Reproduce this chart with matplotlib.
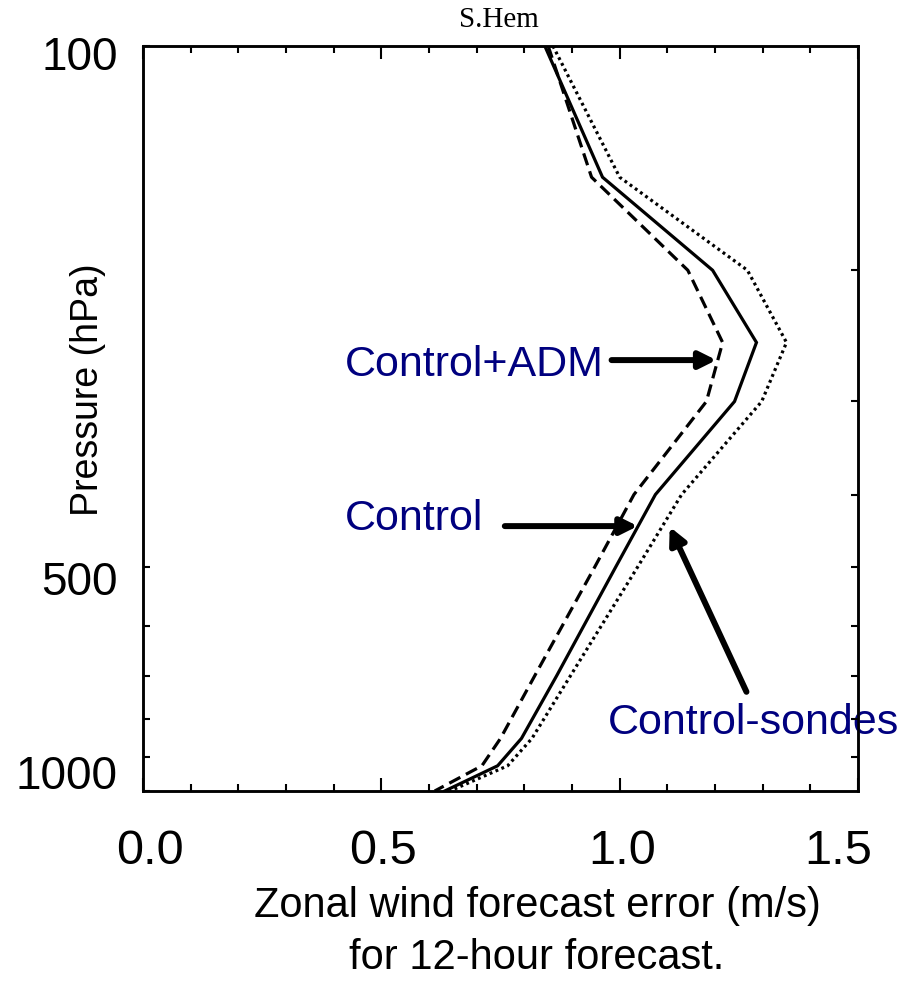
import matplotlib
matplotlib.use("Agg")
import matplotlib.pyplot as plt
import matplotlib.transforms as mtransforms
from matplotlib import font_manager
import numpy as np

# pressure levels (hPa) and 12-h zonal wind forecast error (m/s), southern hemisphere
pressure = [100, 150, 200, 250, 300, 400, 500, 700, 850, 925, 1000]
control = [0.843, 0.964, 1.195, 1.287, 1.241, 1.075, 0.992, 0.868, 0.794, 0.744, 0.633]
control_adm = [0.850, 0.941, 1.143, 1.216, 1.182, 1.030, 0.948, 0.822, 0.750, 0.711, 0.612]
control_sondes = [0.860, 1.000, 1.268, 1.350, 1.298, 1.130, 1.038, 0.897, 0.816, 0.765, 0.644]

ytick_vals = [100, 500, 1000]
ytick_labels = ["100", "500", "1000"]
xtick_vals = [0.0, 0.5, 1.0, 1.5]
xtick_labels = ["0.0", "0.5", "1.0", "1.5"]

NAVY = "#00007f"
SANS = ["Liberation Sans", "DejaVu Sans"]
installed = {f.name for f in font_manager.fontManager.ttflist}
NARROW = ["Liberation Sans Narrow"] + SANS if "Liberation Sans Narrow" in installed else SANS
xtick_size = 40 if NARROW[0] == "Liberation Sans Narrow" else 35

fig = plt.figure(figsize=(9.12, 9.87), dpi=100)
ax = fig.add_axes([143 / 912, 1 - 792 / 987, 715 / 912, 745 / 987])

lw = 2.3
ax.plot(control, pressure, color="black", lw=lw, solid_joinstyle="miter")
ax.plot(control_adm, pressure, color="black", lw=lw, linestyle=(0, (3.9, 2.0)))
ax.plot(control_sondes, pressure, color="black", lw=lw, linestyle=(0, (0.9, 1.1)))

ax.set_yscale("log")
ax.set_ylim(1000, 100)
ax.set_xlim(0, 1.5)

for s in ax.spines.values():
    s.set_linewidth(1.8)

# x ticks every 0.1 on both sides, labelled every 0.5
ax.set_xticks(xtick_vals)
ax.set_xticklabels(xtick_labels, family=NARROW, fontsize=xtick_size)
ax.set_xticks(np.arange(0, 1.51, 0.1), minor=True)
ax.tick_params(axis="x", which="both", direction="in", top=True, bottom=True, width=1.5)
ax.tick_params(axis="x", which="major", length=9.5, pad=27)
ax.tick_params(axis="x", which="minor", length=5)

# y ticks: labelled levels on the left, minor levels on the right
ax.set_yticks(ytick_vals)
ax.set_yticklabels(ytick_labels, family=SANS, fontsize=33)
ax.set_yticks([500, 600, 700, 800, 900], minor=True)
ax.yaxis.set_minor_formatter(plt.NullFormatter())
ax.tick_params(axis="y", which="both", direction="in", length=5, width=1.5, pad=18)
ax2 = ax.twinx()
ax2.set_yscale("log")
ax2.set_ylim(1000, 100)
ax2.set_yticks([200, 300, 400, 500, 600, 700, 800, 900])
ax2.set_yticks([], minor=True)
ax2.set_yticklabels([])
ax2.tick_params(axis="y", direction="in", length=5, width=1.5)
for s in ax2.spines.values():
    s.set_linewidth(1.8)

# nudge end labels the way they sit on the page
for lab, dy in zip(ax.get_yticklabels(), [-6, -10, 20]):
    lab.set_transform(lab.get_transform() + mtransforms.ScaledTranslation(0, dy / 100, fig.dpi_scale_trans))
for lab, dx in zip(ax.get_xticklabels(), [7, 2, 2, -20]):
    lab.set_transform(lab.get_transform() + mtransforms.ScaledTranslation(dx / 100, 0, fig.dpi_scale_trans))

# annotations
arrow = dict(arrowstyle="-|>,head_length=1.0,head_width=0.5", color="black", lw=4.3,
             shrinkA=0, shrinkB=0)
ax.text(0.423, 267, "Control+ADM", color=NAVY, family=SANS, fontsize=31, va="center", ha="left")
ax.annotate("", xy=(1.203, 264), xytext=(0.983, 264), arrowprops=arrow)
ax.text(0.423, 430, "Control", color=NAVY, family=SANS, fontsize=31, va="center", ha="left")
ax.annotate("", xy=(1.038, 441), xytext=(0.759, 441), arrowprops=arrow)
ax.text(0.975, 809, "Control-sondes", color=NAVY, family=SANS, fontsize=31, va="center",
        ha="left", clip_on=False)
ax.annotate("", xy=(1.105, 442), xytext=(1.266, 736), arrowprops=arrow)

fig.text(499 / 912, 1 - 20 / 987, "S.Hem", family=["Liberation Serif", "DejaVu Serif"],
         fontsize=21, ha="center", va="center")
fig.text(88 / 912, 1 - 390 / 987, "Pressure (hPa)", family=SANS, fontsize=27,
         rotation=90, ha="center", va="center")
fig.text(537 / 912, 1 - 932 / 987, "Zonal wind forecast error (m/s)\nfor 12-hour forecast.",
         family=SANS, fontsize=30, ha="center", va="center", linespacing=1.38)

fig.savefig("out.png", dpi=100)
